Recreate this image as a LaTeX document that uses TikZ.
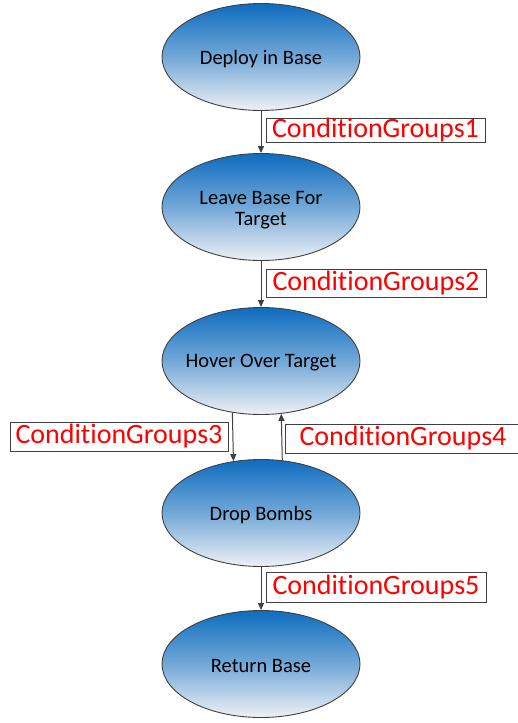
\documentclass[tikz,border=0pt]{standalone}
\usepackage{fontspec}
\setmainfont{Carlito}[RawFeature=-liga]
\usetikzlibrary{shapes.geometric,arrows.meta}
\definecolor{topblue}{HTML}{0E6CBF}
\definecolor{botblue}{HTML}{EEF1F5}
\definecolor{edgegray}{HTML}{404040}
\tikzset{
  state/.style={ellipse, draw=edgegray, line width=0.9pt, minimum width=198pt, minimum height=107pt,
    inner sep=0pt, top color=topblue, bottom color=botblue, middle color=topblue!55!botblue},
  statetext/.style={font=\fontsize{20.5}{21}\selectfont, align=center, text=black, inner sep=0pt},
  cond/.style={draw=edgegray, line width=1pt, fill=white, inner sep=0pt, minimum height=26pt,
    text=red, font=\fontsize{28}{30}\selectfont},
  flow/.style={draw=edgegray, line width=1pt, -{Triangle[length=7pt,width=6pt]}}
}
\begin{document}
\begin{tikzpicture}[x=1pt,y=-1pt]
\useasboundingbox (0,0) rectangle (518,723);
\clip (0,0) rectangle (518,723);
\node[state, label={[statetext,yshift=-2pt]center:Deploy in Base}] (s1) at (261,57) {};
\node[state, label={[statetext,yshift=-3pt]center:Leave Base For\\Target}] (s2) at (261,207) {};
\node[state, label={[statetext,yshift=-2pt]center:Hover Over Target}] (s3) at (261,361) {};
\node[state, label={[statetext,yshift=-2pt]center:Drop Bombs}] (s4) at (261,513) {};
\node[state, label={[statetext,yshift=-2pt]center:Return Base}] (s5) at (261,664) {};
\draw[flow] (s1.south) -- (s2.north);
\draw[flow] (s2.south) -- (s3.north);
\draw[flow] (s3.241.6) -- (s4.118.4);
\draw[flow] (s4.68.3) -- (s3.291.7);
\draw[flow] (s4.south) -- (s5.north);
\node[cond, minimum width=219pt, minimum height=23pt] (c1) at (375.5,130.5) {ConditionGroups1};
\node[cond, minimum width=220pt, minimum height=28pt] (c2) at (376,283) {ConditionGroups2};
\node[cond, minimum width=218pt, minimum height=29pt] (c3) at (119,436.5) {ConditionGroups3};
\node[cond, minimum width=236pt, minimum height=29pt] (c4) at (403,438.5) {ConditionGroups4};
\node[cond, minimum width=220pt, minimum height=30pt] (c5) at (376,587) {ConditionGroups5};
\end{tikzpicture}
\end{document}
